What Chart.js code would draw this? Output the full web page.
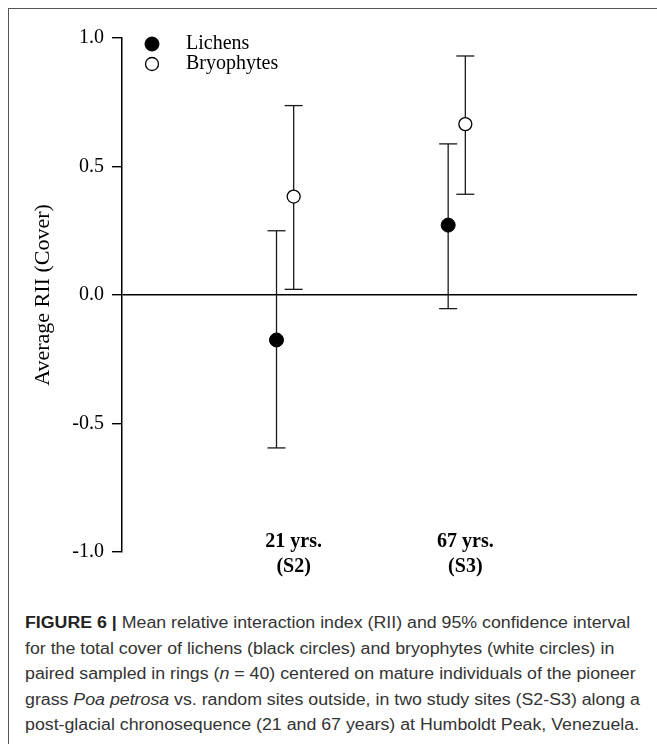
<!DOCTYPE html>
<html><head><meta charset="utf-8">
<script src="https://cdn.jsdelivr.net/npm/chart.js@4"></script>
<style>
html,body{margin:0;padding:0;background:#fff;}
#fig{position:relative;width:657px;height:744px;overflow:hidden;background:#fff;}
#frame{position:absolute;left:8px;top:8px;right:-10px;bottom:-10px;border-left:1.5px solid #555;border-top:1.5px solid #555;}
canvas{position:absolute;left:0;top:0;}
#caption{position:absolute;left:25px;top:610px;font-family:'Liberation Sans',Arial,sans-serif;font-size:16px;line-height:25.5px;color:#333;white-space:nowrap;transform:scaleX(1.11);transform-origin:0 0;}
#caption b{font-weight:bold;color:#222;}
</style></head>
<body>
<div id="fig">
<div id="frame"></div>
<canvas id="c" width="657" height="590"></canvas>
<div id="caption"><b>FIGURE 6 |</b> Mean relative interaction index (RII) and 95% confidence interval<br>for the total cover of lichens (black circles) and bryophytes (white circles) in<br>paired sampled in rings (<i>n</i> = 40) centered on mature individuals of the pioneer<br>grass <i>Poa petrosa</i> vs. random sites outside, in two study sites (S2-S3) along a<br>post-glacial chronosequence (21 and 67 years) at Humboldt Peak, Venezuela.</div>
</div>
<script>
const categories = ['21 yrs.', '67 yrs.'];
const siteCodes = ['(S2)', '(S3)'];
const seriesNames = ['Lichens', 'Bryophytes'];
const lichensMean = [-0.175, 0.272];
const lichensLow = [-0.595, -0.053];
const lichensHigh = [0.250, 0.588];
const bryoMean = [0.383, 0.665];
const bryoLow = [0.022, 0.392];
const bryoHigh = [0.737, 0.930];
const yTicks = [-1.0, -0.5, 0.0, 0.5, 1.0];
const yTitle = 'Average RII (Cover)';

const serif = "'Liberation Serif','Times New Roman',serif";
const offsets = [-0.1, 0];
const xOf = (i, s) => i + 1 + offsets[s];

const seriesStyle = [
  {radius: 7, fill: '#000', stroke: '#000', width: 1},
  {radius: 6.5, fill: '#fff', stroke: '#000', width: 1.3}
];
const means = [lichensMean, bryoMean];
const lows = [lichensLow, bryoLow];
const highs = [lichensHigh, bryoHigh];

const datasets = [];
means.forEach((m, s) => {
  datasets.push({
    label: seriesNames[s],
    legendItem: true,
    data: m.map((v, i) => ({x: xOf(i, s), y: v})),
    showLine: false,
    pointRadius: seriesStyle[s].radius,
    pointHoverRadius: seriesStyle[s].radius,
    pointBackgroundColor: seriesStyle[s].fill,
    pointBorderColor: seriesStyle[s].stroke,
    pointBorderWidth: seriesStyle[s].width,
    order: 1
  });
  m.forEach((v, i) => {
    datasets.push({
      label: seriesNames[s] + ' CI',
      data: [{x: xOf(i, s), y: lows[s][i]}, {x: xOf(i, s), y: highs[s][i]}],
      showLine: true,
      borderColor: '#1a1a1a',
      borderWidth: 1.3,
      pointStyle: 'line',
      pointRadius: 9,
      pointHoverRadius: 9,
      pointBorderColor: '#1a1a1a',
      pointBorderWidth: 1.3,
      order: 2
    });
  });
});

const insetLegend = {
  id: 'insetLegend',
  afterDatasetsDraw(chart, args, opts) {
    const {ctx, chartArea} = chart;
    const items = chart.data.datasets.filter(d => d.legendItem);
    ctx.save();
    ctx.font = opts.font;
    ctx.textBaseline = 'middle';
    ctx.textAlign = 'left';
    items.forEach((d, k) => {
      const cx = chartArea.left + opts.markerX;
      const cy = chartArea.top + opts.top + k * opts.spacing;
      ctx.beginPath();
      ctx.arc(cx, cy, d.pointRadius, 0, Math.PI * 2);
      ctx.fillStyle = d.pointBackgroundColor;
      ctx.fill();
      ctx.lineWidth = d.pointBorderWidth;
      ctx.strokeStyle = d.pointBorderColor;
      ctx.stroke();
      ctx.fillStyle = '#000';
      ctx.fillText(d.label, chartArea.left + opts.textX, cy);
    });
    ctx.restore();
  }
};

new Chart(document.getElementById('c'), {
  type: 'scatter',
  data: {datasets},
  plugins: [insetLegend],
  options: {
    responsive: false,
    animation: false,
    devicePixelRatio: 1,
    events: [],
    layout: {padding: {left: 0, top: 38, right: 20, bottom: 0}},
    plugins: {
      legend: {display: false},
      tooltip: {enabled: false},
      insetLegend: {font: "20px " + serif, markerX: 30, top: 6, spacing: 20, textX: 64}
    },
    scales: {
      x: {
        type: 'linear', min: 0, max: 3,
        afterBuildTicks: (sc) => { sc.ticks = categories.map((c, i) => ({value: i + 1})); },
        afterFit: (sc) => { sc.height = 38; },
        grid: {display: false, drawTicks: false},
        border: {display: false},
        ticks: {
          autoSkip: false, maxRotation: 0, mirror: true, padding: -2.5, color: '#000',
          font: {family: serif, size: 20, weight: 'bold', lineHeight: '25px'},
          callback: (v, i) => [categories[i], siteCodes[i]]
        }
      },
      y: {
        type: 'linear', min: -1, max: 1,
        afterBuildTicks: (sc) => { sc.ticks = yTicks.map(v => ({value: v})); },
        afterFit: (sc) => { sc.width = 122; },
        border: {display: true, color: '#000', width: 1.5},
        grid: {
          drawOnChartArea: true, drawTicks: true, tickLength: 10,
          color: (c) => (c.tick && c.tick.value === 0) ? '#000' : 'rgba(0,0,0,0)',
          tickColor: '#000', lineWidth: 1.4, tickWidth: 1.4
        },
        ticks: {
          padding: 8, color: '#000',
          font: {family: serif, size: 20},
          callback: (v) => Number(v).toFixed(1)
        },
        title: {
          display: true, text: yTitle, color: '#000',
          font: {family: serif, size: 22, lineHeight: 1.2},
          padding: {top: 30, bottom: 0}
        }
      }
    }
  }
});
</script>
</body></html>
